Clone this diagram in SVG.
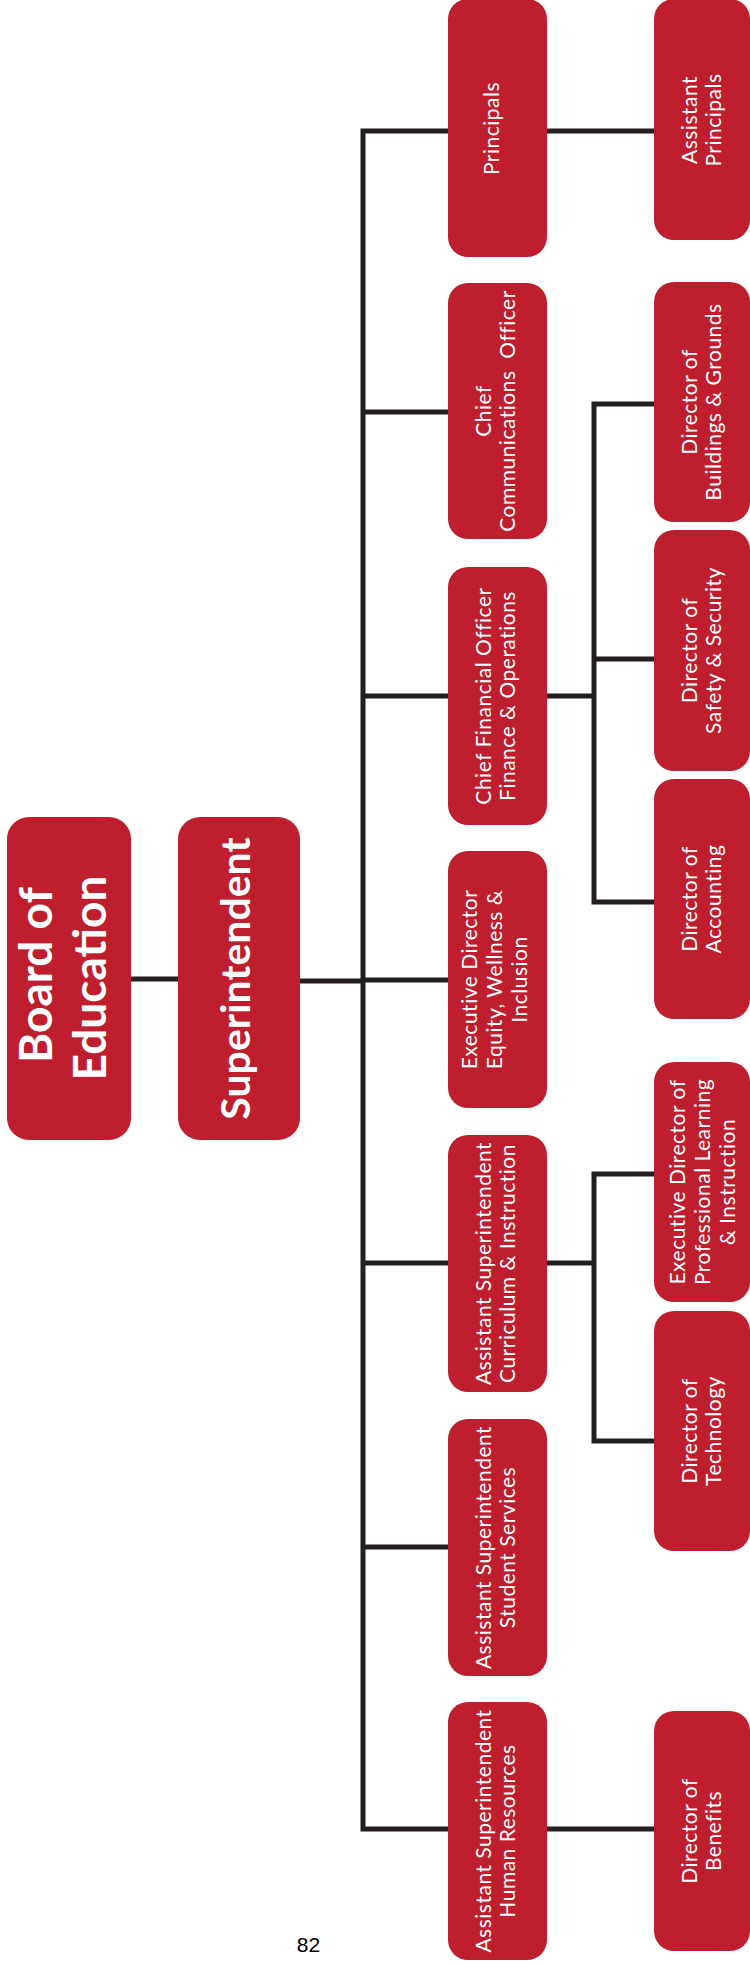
<svg xmlns="http://www.w3.org/2000/svg" width="750" height="1965" viewBox="0 0 750 1965">
<style>
.box{fill:#BE1E2D}
.t{fill:#ffffff;font-family:Lato,"Liberation Sans",sans-serif;font-size:21px;font-weight:400;letter-spacing:0.5px;text-anchor:middle}
.tb{fill:#ffffff;font-family:Lato,"Liberation Sans",sans-serif;font-weight:bold;text-anchor:middle}
.ln{fill:none;stroke:#231f20;stroke-width:5}
</style>
<rect width="750" height="1965" fill="#ffffff"/>
<g id="connectors" class="ln">
<path d="M131 979H178"/>
<path d="M300 981H363"/>
<path d="M448 131H363V1829H448"/>
<path d="M363 412H448"/>
<path d="M363 696H448"/>
<path d="M363 980H448"/>
<path d="M363 1263H448"/>
<path d="M363 1547H448"/>
<path d="M547 131H654"/>
<path d="M547 696H594"/>
<path d="M654 404H594V902H654"/>
<path d="M594 659H654"/>
<path d="M547 1263H594"/>
<path d="M654 1174H594V1441H654"/>
<path d="M547 1829H654"/>
</g>
<g id="board">
<rect class="box" x="7" y="817" width="124" height="323" rx="22"/>
<g transform="translate(52,978) rotate(-90)"><text class="tb" font-size="46"><tspan x="3" y="0">Board of</tspan><tspan x="0" y="54">Education</tspan></text></g>
</g>
<g id="superintendent">
<rect class="box" x="178" y="817" width="122" height="323" rx="22"/>
<g transform="translate(250,978.5) rotate(-90)"><text class="tb" font-size="41">Superintendent</text></g>
</g>
<g id="principals">
<rect class="box" x="448" y="-1" width="99" height="258" rx="20"/>
<g transform="translate(499,128.5) rotate(-90)"><text class="t">Principals</text></g>
</g>
<g id="comm">
<rect class="box" x="448" y="283" width="99" height="256" rx="20"/>
<g transform="translate(491,411) rotate(-90)"><text class="t"><tspan x="0" y="0">Chief</tspan><tspan x="0" y="24" xml:space="preserve">Communications  Officer</tspan></text></g>
</g>
<g id="cfo">
<rect class="box" x="448" y="567" width="99" height="258" rx="20"/>
<g transform="translate(491,696) rotate(-90)"><text class="t"><tspan x="0" y="0">Chief Financial Officer</tspan><tspan x="0" y="24">Finance &amp; Operations</tspan></text></g>
</g>
<g id="equity">
<rect class="box" x="448" y="851" width="99" height="257" rx="20"/>
<g transform="translate(477,979.5) rotate(-90)"><text class="t"><tspan x="0" y="0">Executive Director</tspan><tspan x="0" y="25">Equity, Wellness &amp;</tspan><tspan x="0" y="50">Inclusion</tspan></text></g>
</g>
<g id="curriculum">
<rect class="box" x="448" y="1135" width="99" height="257" rx="20"/>
<g transform="translate(491,1263.5) rotate(-90)"><text class="t"><tspan x="0" y="0">Assistant Superintendent</tspan><tspan x="0" y="24">Curriculum &amp; Instruction</tspan></text></g>
</g>
<g id="student">
<rect class="box" x="448" y="1419" width="99" height="257" rx="20"/>
<g transform="translate(491,1547.5) rotate(-90)"><text class="t"><tspan x="0" y="0">Assistant Superintendent</tspan><tspan x="0" y="24">Student Services</tspan></text></g>
</g>
<g id="hr">
<rect class="box" x="448" y="1702" width="99" height="258" rx="20"/>
<g transform="translate(491,1831) rotate(-90)"><text class="t"><tspan x="0" y="0">Assistant Superintendent</tspan><tspan x="0" y="24">Human Resources</tspan></text></g>
</g>
<g id="asst-principals">
<rect class="box" x="654" y="-1" width="96" height="241" rx="20"/>
<g transform="translate(697,120) rotate(-90)"><text class="t"><tspan x="0" y="0">Assistant</tspan><tspan x="0" y="24">Principals</tspan></text></g>
</g>
<g id="buildings">
<rect class="box" x="654" y="282" width="96" height="240" rx="20"/>
<g transform="translate(697,402) rotate(-90)"><text class="t"><tspan x="0" y="0">Director of</tspan><tspan x="0" y="24">Buildings &amp; Grounds</tspan></text></g>
</g>
<g id="safety">
<rect class="box" x="654" y="530" width="96" height="241" rx="20"/>
<g transform="translate(697,650.5) rotate(-90)"><text class="t"><tspan x="0" y="0">Director of</tspan><tspan x="0" y="24">Safety &amp; Security</tspan></text></g>
</g>
<g id="accounting">
<rect class="box" x="654" y="779" width="96" height="240" rx="20"/>
<g transform="translate(697,899) rotate(-90)"><text class="t"><tspan x="0" y="0">Director of</tspan><tspan x="0" y="24">Accounting</tspan></text></g>
</g>
<g id="prof-learning">
<rect class="box" x="654" y="1062" width="96" height="240" rx="20"/>
<g transform="translate(685,1182) rotate(-90)"><text class="t"><tspan x="0" y="0">Executive Director of</tspan><tspan x="0" y="25">Professional Learning</tspan><tspan x="0" y="50">&amp; Instruction</tspan></text></g>
</g>
<g id="technology">
<rect class="box" x="654" y="1311" width="96" height="240" rx="20"/>
<g transform="translate(697,1431) rotate(-90)"><text class="t"><tspan x="0" y="0">Director of</tspan><tspan x="0" y="24">Technology</tspan></text></g>
</g>
<g id="benefits">
<rect class="box" x="654" y="1711" width="96" height="240" rx="20"/>
<g transform="translate(697,1831) rotate(-90)"><text class="t"><tspan x="0" y="0">Director of</tspan><tspan x="0" y="24">Benefits</tspan></text></g>
</g>
<text x="308.5" y="1952" font-family="'Liberation Sans',Arial,sans-serif" font-size="21" text-anchor="middle" fill="#000000">82</text>
</svg>
